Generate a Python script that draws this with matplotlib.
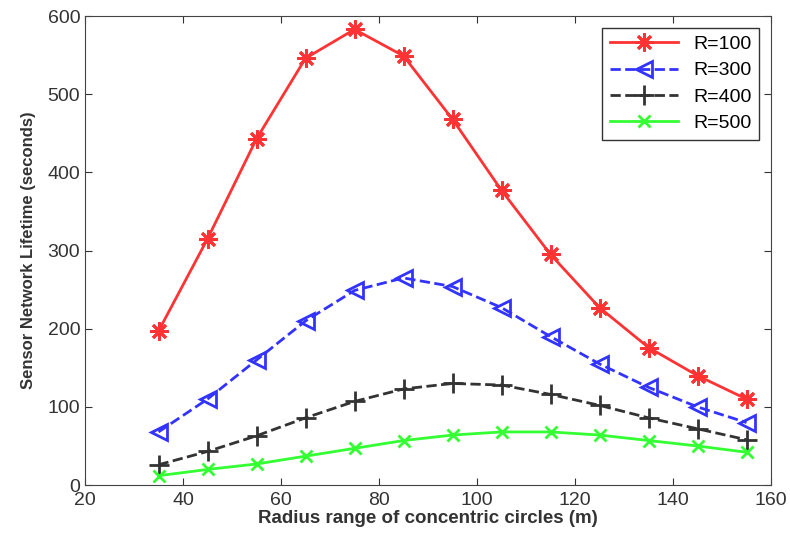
import matplotlib
matplotlib.use("Agg")
import matplotlib.pyplot as plt

plt.rcParams['font.family'] = ['Liberation Sans', 'DejaVu Sans']

# Data
radius = [35, 45, 55, 65, 75, 85, 95, 105, 115, 125, 135, 145, 155]
r100 = [197, 315, 443, 546, 583, 549, 468, 377, 295, 227, 176, 140, 110]
r300 = [68, 110, 160, 210, 249, 265, 254, 227, 190, 155, 125, 100, 80]
r400 = [26, 43, 63, 86, 107, 123, 130, 128, 116, 102, 86, 72, 58]
r500 = [12, 20, 27, 37, 47, 57, 64, 68, 68, 64, 57, 50, 42]
labels = ['R=100', 'R=300', 'R=400', 'R=500']

fig = plt.figure(figsize=(7.9, 5.36), dpi=100)
ax = fig.add_axes([0.1076, 0.095, 0.8684, 0.875])

ax.plot(radius, r100, '-', color='#ff3333', marker=(8, 2, 0), markersize=13, lw=2, mew=2, label=labels[0])
ax.plot(radius, r300, '--', color='#3333ff', marker='<', markersize=12, lw=2, mew=2, mfc='none', label=labels[1])
ax.plot(radius, r400, '--', color='#333333', marker='+', markersize=14, lw=2, mew=2, label=labels[2])
ax.plot(radius, r500, '-', color='#33ff33', marker='x', markersize=9, lw=2, mew=2, label=labels[3])

ax.set_xlim(20, 160)
ax.set_ylim(0, 600)
ax.set_xticks(range(20, 161, 20))
ax.set_yticks(range(0, 601, 100))
ax.tick_params(direction='in', top=True, right=True, labelsize=14, colors='#333333', length=5)
ax.tick_params(axis='x', pad=5)
for s in ax.spines.values():
    s.set_color('#444444')

ax.set_xlabel('Radius range of concentric circles (m)', fontsize=13.5, fontweight='bold', color='#333333', labelpad=1)
ax.set_ylabel('Sensor Network Lifetime (seconds)', fontsize=12, fontweight='bold', color='#333333', labelpad=8)

leg = ax.legend(loc='upper right', fontsize=14, fancybox=False, framealpha=1,
                edgecolor='#333333', handlelength=3.5, borderaxespad=0.6, labelspacing=0.45)
leg.get_frame().set_linewidth(1)

fig.savefig('out.png', dpi=100)
